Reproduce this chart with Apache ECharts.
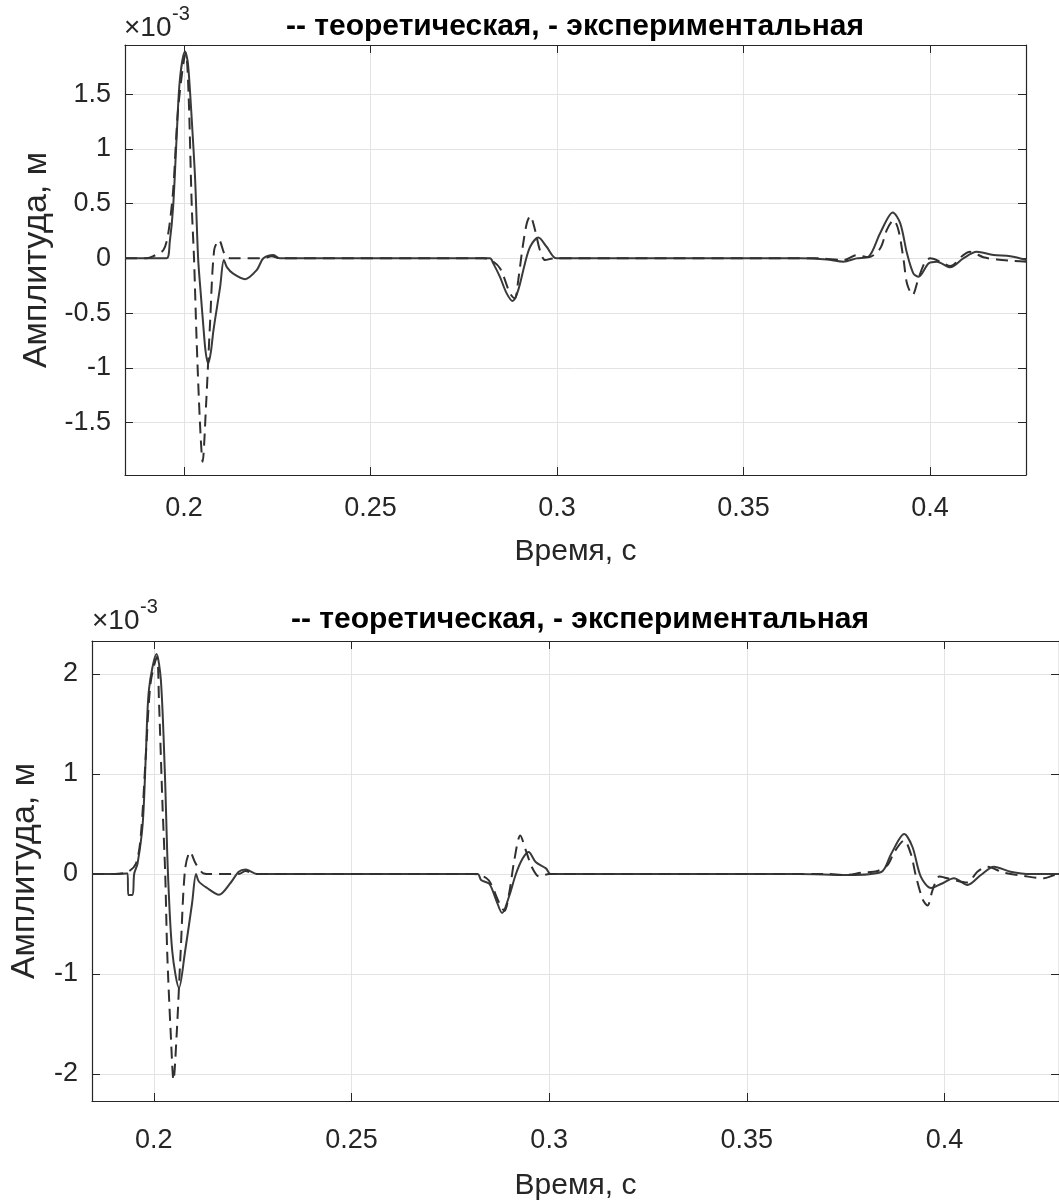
<!DOCTYPE html>
<html>
<head>
<meta charset="utf-8">
<script src="https://cdn.jsdelivr.net/npm/echarts@6/dist/echarts.min.js"></script>
<style>html,body{margin:0;padding:0;background:#fff}#c{width:1059px;height:1202px}</style>
</head>
<body>
<div id="c"></div>
<script>
// ---- data (time in s, amplitude in units of 1e-3 m) ----
const titleText = '-- теоретическая, - экспериментальная';
const xName = 'Время, с';
const yName = 'Амплитуда, м';
const xTicks = [0.2, 0.25, 0.3, 0.35, 0.4];
const yTicksTop = [-1.5, -1, -0.5, 0, 0.5, 1, 1.5];
const yTicksBottom = [-2, -1, 0, 1, 2];

const topExperimental = [
  [0.1842,0],[0.1900,0],[0.1953,0],[0.1962,0.15],[0.1971,0.47],[0.1980,1.08],[0.1989,1.63],[0.2003,1.89],
  [0.2010,1.8],[0.2016,1.54],[0.2023,1.15],[0.2030,0.72],[0.2038,0],[0.2045,-0.32],[0.2052,-0.62],
  [0.2058,-0.85],[0.2065,-0.96],[0.2072,-0.86],[0.2079,-0.66],
  [0.2097,-0.26],[0.2107,-0.015],[0.2115,-0.08],[0.2132,-0.14],[0.2164,-0.19],[0.2195,-0.107],
  [0.2213,0.0],[0.2240,0.03],[0.2257,0],[0.2400,0],[0.2820,0],[0.2829,-0.046],[0.2847,-0.17],
  [0.2865,-0.32],[0.2881,-0.39],[0.2896,-0.29],[0.2914,-0.046],[0.2928,0.106],[0.2950,0.19],
  [0.2972,0.106],[0.2999,0.0],[0.3200,0],[0.3652,0],[0.3723,-0.01],[0.3768,-0.03],[0.3803,0],
  [0.3835,0.015],[0.3866,0.23],[0.3900,0.42],[0.3920,0.32],[0.3938,0.046],[0.3955,-0.137],
  [0.3969,-0.168],[0.3996,-0.046],[0.4018,-0.03],[0.4054,-0.082],[0.4089,0],[0.4125,0.06],
  [0.4170,0.03],[0.4215,0.02],[0.4259,-0.015]
];
const topTheoretical = [
  [0.1842,0],[0.1900,0],[0.1918,0.02],[0.1945,0.076],[0.1958,0.23],[0.1971,0.62],[0.1985,1.39],
  [0.2005,1.875],[0.2012,1.54],[0.2021,0.47],[0.2027,0],[0.2034,-0.75],[0.2043,-1.51],
  [0.2050,-1.86],[0.2059,-1.36],[0.2070,-0.59],[0.2081,0.076],[0.2094,0.167],[0.2110,0.03],
  [0.2125,0],[0.2213,0],[0.2235,0.02],[0.2257,0],[0.2800,0],[0.2820,-0.01],[0.2847,-0.09],
  [0.2874,-0.32],[0.2887,-0.366],[0.2896,-0.2],[0.2908,0.106],[0.2919,0.32],[0.2928,0.387],
  [0.2941,0.26],[0.2954,0.076],[0.2968,-0.016],[0.2990,0],[0.3200,0],[0.3700,0],[0.3768,-0.015],
  [0.3803,0.03],[0.3835,0.01],[0.3866,0.09],[0.3884,0.26],[0.3902,0.35],[0.3915,0.26],
  [0.3929,-0.015],[0.3938,-0.23],[0.3953,-0.335],[0.3969,-0.18],[0.3987,-0.03],[0.4000,0],
  [0.4027,-0.03],[0.4054,-0.07],[0.4089,0.03],[0.4107,0.06],[0.4143,0.01],[0.4179,-0.01],
  [0.4223,-0.024],[0.4259,-0.03]
];
const bottomExperimental = [
  [0.1844,0],[0.1900,0],[0.1934,0.005],[0.19353,-0.21],[0.19463,-0.21],[0.19504,0],
  [0.1959,0.105],[0.1972,0.5],[0.1980,1.19],[0.1988,1.85],[0.2007,2.2],[0.2018,1.94],
  [0.2028,1.02],[0.2036,0],[0.2047,-0.78],[0.2064,-1.14],[0.2079,-0.78],[0.2097,-0.29],
  [0.2107,0],[0.2114,-0.075],[0.2135,-0.14],[0.2165,-0.207],[0.2194,-0.09],[0.2215,0.023],
  [0.2232,0.046],[0.2261,0],[0.2400,0],[0.2819,0],[0.2828,-0.06],[0.2849,-0.1],[0.2866,-0.26],
  [0.2881,-0.39],[0.2899,-0.22],[0.2916,0],[0.2933,0.154],[0.2948,0.22],[0.2966,0.12],
  [0.2992,0.056],[0.3004,0],[0.3200,0],[0.3630,0],[0.3756,-0.01],[0.3840,0.02],[0.3865,0.2],
  [0.3898,0.4],[0.3919,0.27],[0.3940,-0.026],[0.3966,-0.14],[0.3991,-0.1],[0.4024,-0.043],
  [0.4058,-0.11],[0.4092,-0.01],[0.4125,0.072],[0.4167,0.023],[0.4218,0],[0.4290,0]
];
const bottomTheoretical = [
  [0.1844,0],[0.1900,0],[0.1934,0.02],[0.1955,0.105],[0.1967,0.37],[0.1980,1.19],[0.1992,1.91],
  [0.2008,2.17],[0.2013,1.75],[0.2022,0.7],[0.2029,0],[0.2034,-0.78],[0.2043,-1.6],
  [0.2050,-2.06],[0.2058,-1.6],[0.2068,-0.78],[0.2079,0.04],[0.2092,0.22],[0.2106,0.105],
  [0.2123,0.013],[0.2140,0],[0.2215,0],[0.2232,0.03],[0.2255,0],[0.2810,0],[0.2841,-0.04],
  [0.2853,-0.1],[0.2874,-0.29],[0.2887,-0.37],[0.2899,-0.19],[0.2912,0.14],[0.2927,0.385],
  [0.2941,0.236],[0.2958,0.056],[0.2975,-0.026],[0.3000,0],[0.3200,0],[0.3700,0],[0.3750,-0.01],
  [0.3790,0.013],[0.3830,0.03],[0.3856,0.09],[0.3873,0.22],[0.3898,0.335],[0.3915,0.2],
  [0.3928,-0.026],[0.3945,-0.256],[0.3957,-0.315],[0.3970,-0.158],[0.3987,-0.026],
  [0.4008,-0.043],[0.4058,-0.085],[0.4083,0.023],[0.4108,0.072],[0.4150,0.013],[0.4201,-0.02],
  [0.4251,-0.043],[0.4282,-0.01],[0.4290,-0.01]
];

// ---- chart ----
const FONT = 'Liberation Sans, Arial, Helvetica, sans-serif';
const AX = '#262626';
const GRIDC = '#e3e3e3';
const TICK = 27, LAB = 30, YLAB = 34;

function xAxes(gi, min, max, nameGap, margin) {
  return [{
    type: 'value', gridIndex: gi, position: 'bottom', min: min, max: max,
    axisLine: { show: true, onZero: false, lineStyle: { color: AX, width: 1.2 } },
    axisTick: { show: true, inside: true, length: 8, customValues: xTicks, lineStyle: { color: AX } },
    axisLabel: { customValues: xTicks, fontSize: TICK, fontFamily: FONT, color: AX, margin: margin },
    splitLine: { show: true, lineStyle: { color: GRIDC, width: 1 } },
    name: xName, nameLocation: 'middle', nameGap: nameGap,
    nameTextStyle: { fontSize: LAB, fontFamily: FONT, color: AX }
  }, {
    type: 'value', gridIndex: gi, position: 'top', min: min, max: max,
    axisLine: { show: true, onZero: false, lineStyle: { color: AX, width: 1.2 } },
    axisTick: { show: true, inside: true, length: 8, customValues: xTicks, lineStyle: { color: AX } },
    axisLabel: { show: false }, splitLine: { show: false }
  }];
}
function yAxes(gi, min, max, ticks, nameGap) {
  return [{
    type: 'value', gridIndex: gi, position: 'left', min: min, max: max,
    axisLine: { show: true, onZero: false, lineStyle: { color: AX, width: 1.2 } },
    axisTick: { show: true, inside: true, length: 8, customValues: ticks, lineStyle: { color: AX } },
    axisLabel: { customValues: ticks, fontSize: TICK, fontFamily: FONT, color: AX, margin: 14 },
    splitLine: { show: true, lineStyle: { color: GRIDC, width: 1 } },
    name: yName, nameLocation: 'middle', nameGap: nameGap, nameRotate: 90,
    nameTextStyle: { fontSize: YLAB, fontFamily: FONT, color: AX }
  }, {
    type: 'value', gridIndex: gi, position: 'right', min: min, max: max,
    axisLine: { show: true, onZero: false, lineStyle: { color: AX, width: 1.2 } },
    axisTick: { show: true, inside: true, length: 8, customValues: ticks, lineStyle: { color: AX } },
    axisLabel: { show: false }, splitLine: { show: false }
  }];
}
function line(data, xi, yi, dashed) {
  return {
    type: 'line', data: data, xAxisIndex: xi, yAxisIndex: yi, showSymbol: false,
    smooth: 0.3, clip: true, z: dashed ? 3 : 2,
    lineStyle: { color: dashed ? '#303030' : '#3a3a3a', width: 2, type: dashed ? [12, 7] : 'solid' }
  };
}

const chart = echarts.init(document.getElementById('c'), null, { renderer: 'canvas' });
chart.setOption({
  animation: false,
  backgroundColor: '#fff',
  grid: [
    { left: 125, top: 45, width: 901, height: 430, containLabel: false },
    { left: 91, top: 641, width: 971, height: 466, containLabel: false }
  ],
  xAxis: [].concat(xAxes(0, 0.1842, 0.4257, 62, 20), xAxes(1, 0.18438, 0.42896, 70, 26)),
  yAxis: [].concat(yAxes(0, -1.98, 1.95, yTicksTop, 70), yAxes(1, -2.27, 2.33, yTicksBottom, 50)),
  series: [
    line(topExperimental, 0, 0, false),
    line(topTheoretical, 0, 0, true),
    line(bottomExperimental, 2, 2, false),
    line(bottomTheoretical, 2, 2, true)
  ],
  graphic: [
    { type: 'text', x: 575, y: 12, style: { text: titleText, font: 'bold 30px ' + FONT, fill: '#000', align: 'center' } },
    { type: 'text', x: 124, y: 14, style: { text: '×10', font: '28px ' + FONT, fill: AX } },
    { type: 'text', x: 172, y: 4, style: { text: '-3', font: '20px ' + FONT, fill: AX } },
    { type: 'text', x: 92, y: 607, style: { text: '×10', font: '28px ' + FONT, fill: AX } },
    { type: 'text', x: 140, y: 597, style: { text: '-3', font: '20px ' + FONT, fill: AX } },
    { type: 'text', x: 580, y: 605, style: { text: titleText, font: 'bold 30px ' + FONT, fill: '#000', align: 'center' } }
  ]
});
</script>
</body>
</html>
